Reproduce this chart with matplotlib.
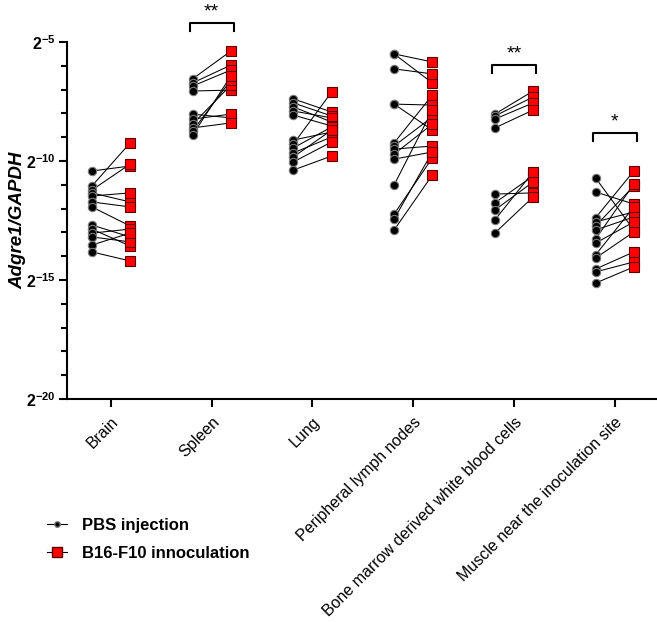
import matplotlib
matplotlib.use("Agg")
import matplotlib.pyplot as plt
from matplotlib.lines import Line2D
import numpy as np

plt.rcParams['font.family'] = ['Liberation Sans', 'DejaVu Sans']
plt.rcParams['mathtext.fontset'] = 'custom'
plt.rcParams['mathtext.rm'] = 'Liberation Sans'
plt.rcParams['mathtext.bf'] = 'Liberation Sans:bold'
plt.rcParams['mathtext.it'] = 'Liberation Sans:italic'

categories = ["Brain", "Spleen", "Lung", "Peripheral lymph nodes",
              "Bone marrow derived white blood cells", "Muscle near the inoculation site"]

# log2(Adgre1/GAPDH) values, paired per animal
brain_pbs = [-10.42, -11.05, -11.22, -11.34, -11.47, -11.72, -11.93, -12.69, -12.86, -13.03, -13.19, -13.53, -13.82]
brain_b16 = [-10.21, -9.24, -10.13, -11.72, -11.34, -11.93, -12.73, -13.19, -13.57, -12.86, -13.40, -13.03, -14.20]

spleen_pbs = [-6.55, -6.72, -6.85, -7.06, -8.03, -8.24, -8.45, -8.61, -8.74, -8.91]
spleen_b16 = [-5.38, -5.97, -6.18, -7.02, -8.19, -8.03, -6.81, -8.40, -6.60, -6.43]

lung_pbs = [-7.39, -7.56, -7.73, -7.90, -8.07, -9.12, -9.29, -9.45, -9.66, -9.83, -10.04, -10.38]
lung_b16 = [-7.94, -8.11, -8.36, -8.19, -8.53, -8.78, -7.10, -8.57, -8.99, -8.70, -9.20, -9.79]

pln_pbs = [-5.50, -5.50, -6.13, -7.61, -7.61, -9.24, -9.37, -9.50, -9.71, -9.92, -11.01, -12.23, -12.44, -12.90]
pln_b16 = [-5.84, -6.72, -6.34, -7.65, -8.70, -7.23, -8.15, -9.37, -8.45, -9.62, -7.86, -9.87, -9.62, -10.59]

bm_pbs = [-8.03, -8.11, -8.24, -8.61, -11.39, -11.76, -12.06, -12.48, -13.03]
bm_b16 = [-7.06, -7.31, -7.56, -7.86, -11.34, -10.63, -10.88, -10.46, -11.51]

muscle_pbs = [-10.71, -11.30, -12.39, -12.56, -12.73, -12.90, -13.28, -13.45, -13.95, -14.08, -14.54, -14.66, -15.13]
muscle_b16 = [-12.90, -11.81, -10.42, -12.14, -11.05, -12.35, -10.97, -12.56, -11.93, -12.98, -13.82, -14.24, -14.45]

pbs_groups = [brain_pbs, spleen_pbs, lung_pbs, pln_pbs, bm_pbs, muscle_pbs]
b16_groups = [brain_b16, spleen_b16, lung_b16, pln_b16, bm_b16, muscle_b16]

sig_groups = [1, 4, 5]
sig_labels = ["**", "**", "*"]
sig_bracket_y = [-4.2, -5.97, -8.82]

y_ticks = [-20, -15, -10, -5]
y_tick_labels = [r'$\mathbf{2^{-20}}$', r'$\mathbf{2^{-15}}$', r'$\mathbf{2^{-10}}$', r'$\mathbf{2^{-5}}$']

fig = plt.figure(figsize=(6.57, 6.22), dpi=100)
ax = fig.add_axes([67/657, 1-399/622, (657-67)/657, (399-42)/622])

off = 0.19
for i, (p, b) in enumerate(zip(pbs_groups, b16_groups)):
    for yp, yb in zip(p, b):
        ax.plot([i - off, i + off], [yp, yb], color='black', lw=0.75, zorder=2)
    ax.plot(np.full(len(p), i - off), p, 'o', ms=6, mfc='black', mec='#7a7a7a', mew=0.8, zorder=3, ls='none')
    ax.plot(np.full(len(b), i + off), b, 's', ms=7.3, mfc='#ff0000', mec='#5a0000', mew=0.8, zorder=4, ls='none')

for g, lab, yb in zip(sig_groups, sig_labels, sig_bracket_y):
    ax.plot([g - 0.22, g - 0.22, g + 0.22, g + 0.22], [yb - 0.35, yb, yb, yb - 0.35],
            color='black', lw=1.5, clip_on=False, zorder=5)
    ax.text(g, yb + 0.12, lab, ha='center', va='bottom', fontsize=14, clip_on=False)

ax.set_xlim(-0.437, 5.42)
ax.set_ylim(-20, -5)
ax.set_yticks(y_ticks)
ax.set_yticklabels(y_tick_labels, fontsize=11.5)
ax.set_yticks(np.arange(-20, -4, 1), minor=True)
ax.set_xticks(range(len(categories)))
ax.set_xticklabels(categories, rotation=45, ha='right', rotation_mode='anchor', fontsize=11.5)

for s in ['top', 'right']:
    ax.spines[s].set_visible(False)
for s in ['left', 'bottom']:
    ax.spines[s].set_linewidth(1.5)
ax.tick_params(axis='y', which='major', length=6, width=1.5, pad=2)
ax.tick_params(axis='y', which='minor', length=4, width=1.5)
ax.tick_params(axis='x', which='major', length=6, width=1.5, pad=5)

ax.set_ylabel('Adgre1/GAPDH', fontsize=13.5, fontweight='bold', fontstyle='italic')
ax.yaxis.set_label_coords(-0.068, 0.5)

handles = [Line2D([], [], color='black', lw=0.8, marker='o', ms=4, mfc='black', mec='#7a7a7a'),
           Line2D([], [], color='black', lw=0.8, marker='s', ms=7, mfc='#ff0000', mec='#5a0000')]
fig.legend(handles, ['PBS injection', 'B16-F10 innoculation'], loc='upper left',
           bbox_to_anchor=(32/657, 1-503/622), frameon=False, handlelength=1.2,
           handletextpad=0.9, labelspacing=0.75, prop={'weight': 'bold', 'size': 12})

fig.savefig('out.png', dpi=100)
